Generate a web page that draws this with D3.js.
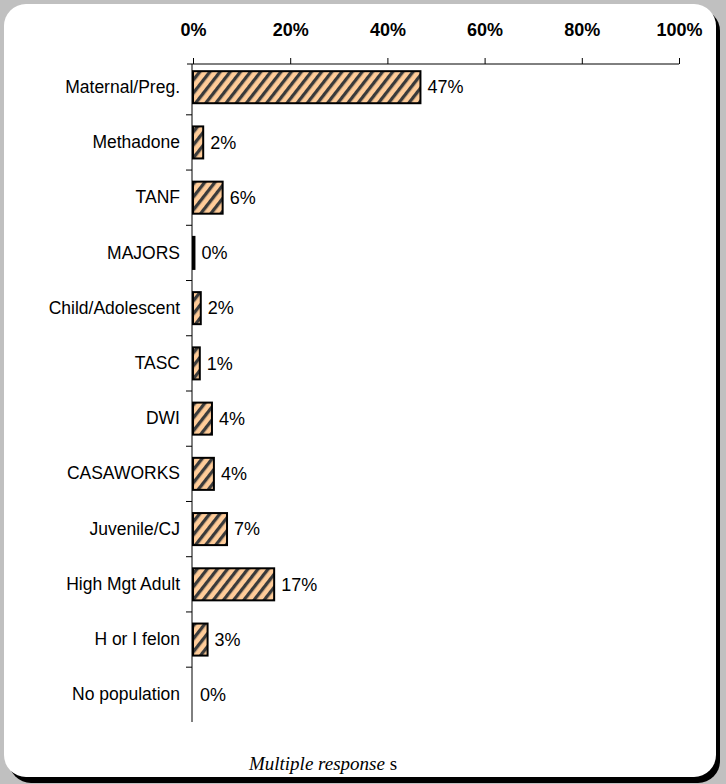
<!DOCTYPE html>
<html><head><meta charset="utf-8">
<script src="https://cdn.jsdelivr.net/npm/d3@7"></script>
<style>html,body{margin:0;padding:0;background:#c0c0c0;}svg{display:block;}</style>
</head><body>
<script>
const categories = ["Maternal/Preg.","Methadone","TANF","MAJORS","Child/Adolescent","TASC","DWI","CASAWORKS","Juvenile/CJ","High Mgt Adult","H or I felon","No population"];
const values = [46.8, 2.1, 6.1, 0.3, 1.6, 1.4, 3.9, 4.3, 7.0, 16.7, 3.0, 0];
const tickValues = [0, 20, 40, 60, 80, 100];
const footnoteItalic = "Multiple response";
const footnoteTail = " s";

const W = 726, H = 784;
const svg = d3.select("body").append("svg").attr("width", W).attr("height", H);

const defs = svg.append("defs");
const pat = defs.append("pattern").attr("id","hatch").attr("patternUnits","userSpaceOnUse")
  .attr("width",8).attr("height",8).attr("patternTransform","rotate(38)");
pat.append("rect").attr("width",8).attr("height",8).attr("fill","#ffcc99");
pat.append("rect").attr("x",0).attr("width",3.3).attr("height",8).attr("fill","#3a3a3a");

svg.append("rect").attr("x",9).attr("y",9).attr("width",711).attr("height",774).attr("rx",22).attr("fill","#000");
svg.append("rect").attr("x",4).attr("y",4).attr("width",712).attr("height",773).attr("rx",22).attr("fill","#fff");

const font = "Arial, 'Liberation Sans', sans-serif";
const x = d3.scaleLinear().domain([0,100]).range([193,679]);
const y = d3.scaleBand().domain(categories).range([64,718]).paddingInner(0.42).paddingOuter(0.13);

const xAxis = svg.append("g").attr("transform","translate(0,64)")
  .call(d3.axisTop(x).tickValues(tickValues).tickFormat(d=>d+"%").tickSize(6).tickSizeOuter(0).tickPadding(22));
xAxis.select(".domain").attr("d","M187,0H679").attr("stroke","#000");
xAxis.selectAll(".tick line").attr("stroke","#000");
xAxis.selectAll("text").attr("font-family",font).attr("font-size",18).attr("font-weight","bold").attr("fill","#000");

const step = y.step();
const yAxis = svg.append("g").attr("transform","translate(192,0)")
  .call(d3.axisLeft(y).tickSize(0).tickPadding(12));
yAxis.select(".domain").attr("d","M0,64V722").attr("stroke","#000");
yAxis.selectAll("text").attr("font-family",font).attr("font-size",17.5).attr("fill","#000");
svg.append("g").selectAll("line").data(categories.slice(1)).join("line")
  .attr("x1",186).attr("x2",192)
  .attr("y1",d=>y(d)-(step-y.bandwidth())/2).attr("y2",d=>y(d)-(step-y.bandwidth())/2)
  .attr("stroke","#000");

svg.append("g").selectAll("rect").data(values.map((v,i)=>({v,c:categories[i]})).filter(d=>d.v>0)).join("rect")
  .attr("x",x(0)).attr("y",d=>y(d.c)).attr("width",d=>x(d.v)-x(0)).attr("height",y.bandwidth())
  .attr("fill","url(#hatch)").attr("stroke","#000").attr("stroke-width",2);

svg.append("g").selectAll("text").data(values.map((v,i)=>({v,c:categories[i]}))).join("text")
  .attr("x",d=>x(d.v)+7).attr("y",d=>y(d.c)+y.bandwidth()/2).attr("dy","0.35em")
  .attr("font-family",font).attr("font-size",18).attr("fill","#000")
  .text(d=>Math.round(d.v)+"%");

const foot = svg.append("text").attr("x",323).attr("y",770).attr("text-anchor","middle")
  .attr("font-family","'Liberation Serif', 'Times New Roman', serif").attr("font-size",19);
foot.append("tspan").attr("font-style","italic").text(footnoteItalic);
foot.append("tspan").attr("font-style","normal").text(footnoteTail);
</script>
</body></html>
